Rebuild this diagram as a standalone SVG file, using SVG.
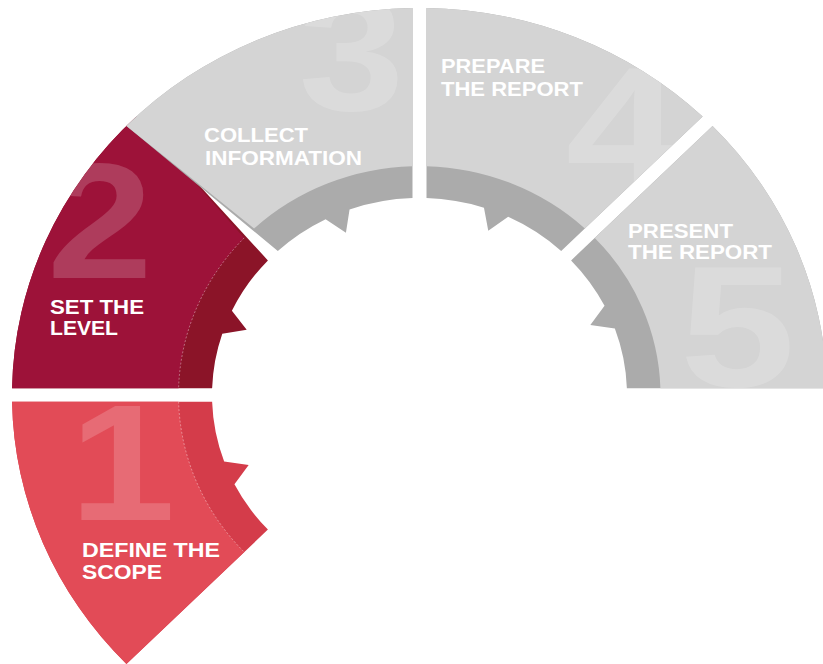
<svg xmlns="http://www.w3.org/2000/svg" width="823" height="664" viewBox="0 0 823 664">
<style>
.lbl{font-family:"Liberation Sans",Arial,Helvetica,sans-serif;font-weight:bold;font-size:20px;fill:#ffffff}
.num{font-family:"Liberation Sans",Arial,Helvetica,sans-serif;font-weight:bold;font-size:173px;fill:#ffffff;fill-opacity:0.18;text-anchor:middle}
.dash{fill:none;stroke:#ffffff;stroke-opacity:0.4;stroke-width:1;stroke-dasharray:2 2}
.gmain{fill:#d4d4d4}
.gband{fill:#ababab}
</style>
<defs>
<path id="s1" d="M-407.44,7 A407.5,407.5 0 0 0 -293.05,283.16 L-151.59,141.69 A207.5,207.5 0 0 1 -185.05,93.88 L-170.83,73.57 L-195.35,69.95 A207.5,207.5 0 0 1 -207.38,7 Z"/>
<path id="s2" d="M-283.16,-293.05 A407.5,407.5 0 0 0 -407.44,-7 L-207.38,-7 A207.5,207.5 0 0 1 -197.23,-64.47 L-172.82,-68.77 L-187.60,-88.68 A207.5,207.5 0 0 1 -151.59,-141.69 Z"/>
<path id="s3" d="M-7,-407.44 A407.5,407.5 0 0 0 -293.05,-283.16 L-141.69,-151.59 A207.5,207.5 0 0 1 -93.88,-185.05 L-73.57,-170.83 L-69.95,-195.35 A207.5,207.5 0 0 1 -7,-207.38 Z"/>
<path id="s4" d="M283.16,-293.05 A407.5,407.5 0 0 0 7,-407.44 L7,-207.38 A207.5,207.5 0 0 1 64.47,-197.23 L68.77,-172.82 L88.68,-187.60 A207.5,207.5 0 0 1 141.69,-151.59 Z"/>
<path id="s5" d="M407.44,-7 A407.5,407.5 0 0 0 293.05,-283.16 L151.59,-141.69 A207.5,207.5 0 0 1 185.05,-93.88 L170.83,-73.57 L195.35,-69.95 A207.5,207.5 0 0 1 207.38,-7 Z"/>
<clipPath id="c1"><use href="#s1"/></clipPath>
<clipPath id="c2"><use href="#s2"/></clipPath>
<clipPath id="c3"><use href="#s3"/></clipPath>
<clipPath id="c4"><use href="#s4"/></clipPath>
<clipPath id="c5"><use href="#s5"/></clipPath>
</defs>
<rect width="823" height="664" fill="#ffffff"/>

<g id="step1">
 <g transform="translate(419.5,395) scale(1,0.95)">
  <use href="#s1" fill="#d43c4a"/>
  <path fill="#e24b57" d="M-407.44,7 A407.5,407.5 0 0 0 -293.05,283.16 L-175.29,165.39 A241,241 0 0 1 -240.90,7 Z"/>
  <path class="dash" d="M-240.90,7 A241,241 0 0 0 -175.29,165.39"/>
  <g clip-path="url(#c1)"><text class="num" transform="translate(-297,131.6) scale(1.1,1)">1</text></g>
 </g>
 <text class="lbl" x="82" y="557" textLength="138" lengthAdjust="spacingAndGlyphs">DEFINE THE</text>
 <text class="lbl" x="82" y="579" textLength="80" lengthAdjust="spacingAndGlyphs">SCOPE</text>
</g>

<g id="step2">
 <g transform="translate(419.5,395) scale(1,0.95)">
  <use href="#s2" fill="#8b1428"/>
  <path fill="#9d1239" d="M-283.16,-293.05 A407.5,407.5 0 0 0 -407.44,-7 L-240.90,-7 A241,241 0 0 1 -175.29,-165.39 Z"/>
  <path class="dash" d="M-175.29,-165.39 A241,241 0 0 0 -240.90,-7"/>
  <g clip-path="url(#c2)"><text class="num" transform="translate(-319.5,-123.2) scale(1.1,1)">2</text></g>
 </g>
 <text class="lbl" x="50" y="314" textLength="94" lengthAdjust="spacingAndGlyphs">SET THE</text>
 <text class="lbl" x="50" y="335" textLength="68" lengthAdjust="spacingAndGlyphs">LEVEL</text>
</g>

<g id="step3">
 <g transform="translate(419.5,395) scale(1,0.95)">
  <use href="#s3" class="gband"/>
  <path class="gmain" d="M-7,-407.44 A407.5,407.5 0 0 0 -293.05,-283.16 L-165.39,-175.29 A241,241 0 0 1 -7,-240.90 Z"/>
  <g clip-path="url(#c3)"><text class="num" transform="translate(-68,-300) scale(1.1,1)">3</text></g>
 </g>
 <text class="lbl" x="204" y="142" textLength="104" lengthAdjust="spacingAndGlyphs">COLLECT</text>
 <text class="lbl" x="205" y="165" textLength="157" lengthAdjust="spacingAndGlyphs">INFORMATION</text>
</g>

<g id="step4">
 <g transform="translate(419.5,395) scale(1,0.95)">
  <use href="#s4" class="gband"/>
  <path class="gmain" d="M283.16,-293.05 A407.5,407.5 0 0 0 7,-407.44 L7,-240.90 A241,241 0 0 1 165.39,-175.29 Z"/>
  <g clip-path="url(#c4)"><text class="num" transform="translate(204,-219) scale(1.2,1.05)">4</text></g>
 </g>
 <text class="lbl" x="441" y="73" textLength="104" lengthAdjust="spacingAndGlyphs">PREPARE</text>
 <text class="lbl" x="441" y="96" textLength="142" lengthAdjust="spacingAndGlyphs">THE REPORT</text>
</g>

<g id="step5">
 <g transform="translate(419.5,395) scale(1,0.95)">
  <use href="#s5" class="gband"/>
  <path class="gmain" d="M407.44,-7 A407.5,407.5 0 0 0 293.05,-283.16 L175.29,-165.39 A241,241 0 0 1 240.90,-7 Z"/>
  <g clip-path="url(#c5)"><text class="num" transform="translate(318,-9.5) scale(1.2,1.05)">5</text></g>
 </g>
 <text class="lbl" x="628" y="238" textLength="105" lengthAdjust="spacingAndGlyphs">PRESENT</text>
 <text class="lbl" x="628" y="259" textLength="144" lengthAdjust="spacingAndGlyphs">THE REPORT</text>
</g>

<g id="connectors"/>
</svg>
